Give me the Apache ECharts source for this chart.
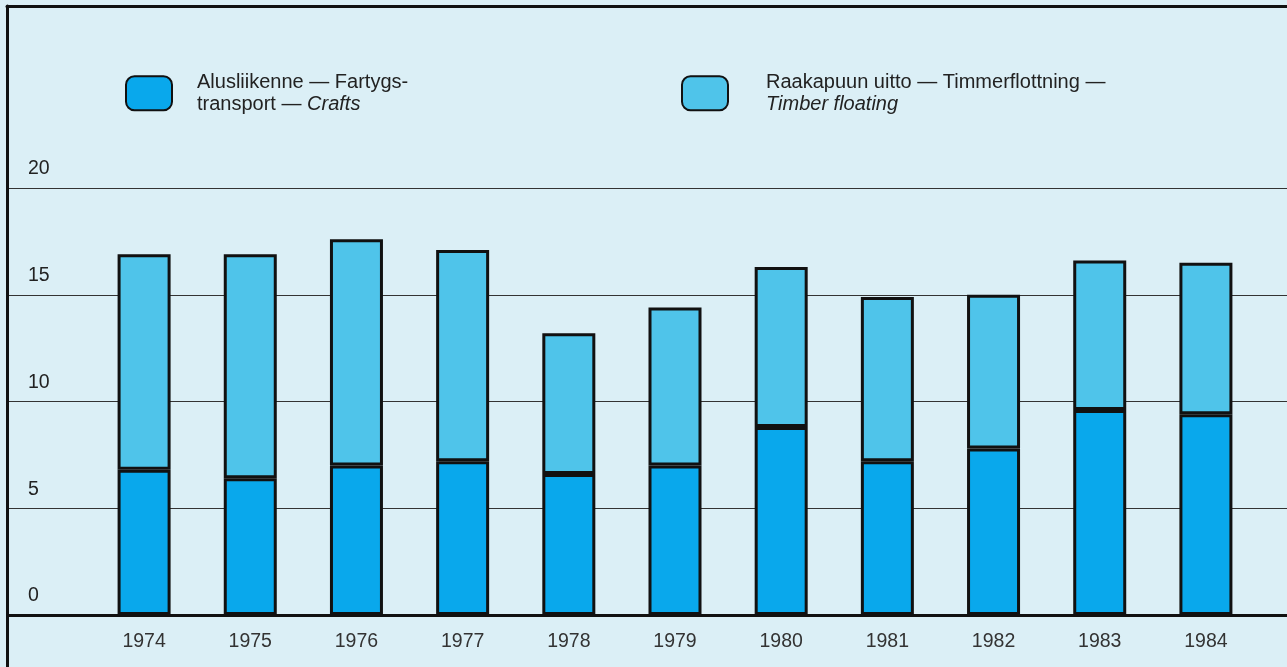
<!DOCTYPE html>
<html>
<head>
<meta charset="utf-8">
<script src="https://cdn.jsdelivr.net/npm/echarts@6/dist/echarts.min.js"></script>
<style>
  html, body { margin: 0; padding: 0; background: #dbeff6; }
  #chart { width: 1287px; height: 667px; }
</style>
</head>
<body>
<div id="chart"></div>
<script>
var years = ['1974', '1975', '1976', '1977', '1978', '1979', '1980', '1981', '1982', '1983', '1984'];
var crafts = [6.8, 6.4, 7.0, 7.2, 6.6, 7.0, 8.8, 7.2, 7.8, 9.6, 9.4];
var timber = [10.1, 10.5, 10.6, 9.9, 6.6, 7.4, 7.5, 7.7, 7.2, 7.0, 7.1];
var yTicks = [0, 5, 10, 15, 20];

var craftsName = 'Alusliikenne — Fartygstransport — Crafts';
var timberName = 'Raakapuun uitto — Timmerflottning — Timber floating';

var textColor = '#222';
var font = 'Liberation Sans, Arial, Helvetica, sans-serif';

var myChart = echarts.init(document.getElementById('chart'));

// rich styles shared by both legends
var legendRich = {
  n: { fontSize: 20, lineHeight: 22.5, color: textColor, fontFamily: font },
  i: { fontSize: 20, lineHeight: 22.5, color: textColor, fontStyle: 'italic', fontFamily: font }
};

var option = {
  backgroundColor: '#dbeff6',
  textStyle: { fontFamily: font },
  legend: [
    {
      data: [craftsName],
      left: 125,
      top: 72,
      padding: 0,
      icon: 'roundRect',
      itemWidth: 46,
      itemHeight: 34,
      selectedMode: false,
      formatter: function () {
        return '{n|Alusliikenne — Fartygs-}\n{n|transport — }{i|Crafts}';
      },
      textStyle: { padding: [0, 0, 0, 20], rich: legendRich }
    },
    {
      data: [timberName],
      left: 681,
      top: 72,
      padding: 0,
      icon: 'roundRect',
      itemWidth: 46,
      itemHeight: 34,
      selectedMode: false,
      formatter: function () {
        return '{n|Raakapuun uitto — Timmerflottning —}\n{i|Timber floating}';
      },
      textStyle: { padding: [0, 0, 0, 33], rich: legendRich }
    }
  ],
  grid: [
    // bars
    { left: 91, right: 28, top: 188, bottom: 52 },
    // gridlines + y labels, full width
    { left: 8, right: 0, top: 188, bottom: 52 },
    // outer frame (top and left rules)
    { left: 7, right: -20, top: 6, bottom: -20 }
  ],
  xAxis: [
    {
      gridIndex: 0,
      type: 'category',
      data: years,
      axisLine: { show: false },
      axisTick: { show: false },
      axisLabel: {
        color: '#333',
        fontSize: 19.5,
        margin: 17,
        fontFamily: font
      }
    },
    {
      gridIndex: 1,
      type: 'value',
      min: 0,
      max: 1,
      axisLine: { show: true, lineStyle: { color: '#111', width: 3 } },
      axisTick: { show: false },
      axisLabel: { show: false },
      splitLine: { show: false }
    },
    {
      gridIndex: 2,
      type: 'value',
      position: 'top',
      min: 0,
      max: 1,
      axisLine: { show: true, onZero: false, lineStyle: { color: '#111', width: 3 } },
      axisTick: { show: false },
      axisLabel: { show: false },
      splitLine: { show: false }
    }
  ],
  yAxis: [
    {
      gridIndex: 0,
      type: 'value',
      min: yTicks[0],
      max: yTicks[yTicks.length - 1],
      interval: 5,
      show: false
    },
    {
      gridIndex: 1,
      type: 'value',
      min: yTicks[0],
      max: yTicks[yTicks.length - 1],
      interval: 5,
      axisLine: { show: false },
      axisTick: { show: false },
      axisLabel: {
        inside: true,
        margin: 20,
        color: '#222',
        fontSize: 19.5,
        fontFamily: font,
        verticalAlign: 'bottom',
        lineHeight: 20,
        padding: [0, 0, 9, 0]
      },
      splitLine: { show: true, lineStyle: { color: '#333', width: 1.2 } }
    },
    {
      gridIndex: 2,
      type: 'value',
      min: 0,
      max: 1,
      axisLine: { show: true, onZero: false, lineStyle: { color: '#111', width: 3 } },
      axisTick: { show: false },
      axisLabel: { show: false },
      splitLine: { show: false }
    }
  ],
  series: [
    {
      name: craftsName,
      type: 'bar',
      stack: 'total',
      xAxisIndex: 0,
      yAxisIndex: 0,
      barWidth: 53,
      data: crafts,
      itemStyle: { color: '#09a8ec', borderColor: '#111', borderWidth: 3 }
    },
    {
      name: timberName,
      type: 'bar',
      stack: 'total',
      xAxisIndex: 0,
      yAxisIndex: 0,
      barWidth: 53,
      data: timber,
      itemStyle: { color: '#4fc4ea', borderColor: '#111', borderWidth: 3 }
    }
  ]
};

myChart.setOption(option);
</script>
</body>
</html>
